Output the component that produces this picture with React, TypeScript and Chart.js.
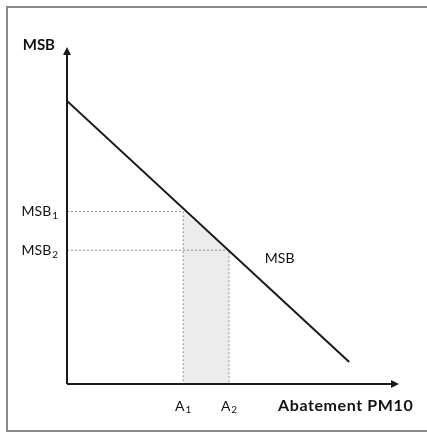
import React, { useEffect, useRef } from "react";
import { Chart, registerables } from "chart.js";

Chart.register(...registerables);

// Marginal social benefit curve (abatement, MSB)
const msbX = [0, 8.5];
const msbY = [8.4, 0.65];
// Abatement levels A1, A2 and matching MSB levels
const abatementLabels = ["1", "2"];
const abatementX = [3.5, 4.88];
const msbLevels = [5.12, 3.97];
// Axis ranges
const xRange = [0, 10];
const yRange = [0, 10];

const FONT = "Lato, 'Open Sans', sans-serif";
const TEXT = "#111111";

export default function App() {
  const ref = useRef<HTMLCanvasElement | null>(null);

  useEffect(() => {
    const canvas = ref.current;
    if (!canvas) return;

    const drawSub = (
      ctx: CanvasRenderingContext2D,
      main: string,
      sub: string,
      x: number,
      y: number,
      align: "left" | "right" | "center",
      size: number
    ) => {
      const subSize = Math.round(size * 0.72);
      ctx.font = `${size}px ${FONT}`;
      const wMain = ctx.measureText(main).width;
      ctx.font = `${subSize}px ${FONT}`;
      const wSub = ctx.measureText(sub).width;
      const total = wMain + wSub + 1;
      let left = x;
      if (align === "right") left = x - total;
      if (align === "center") left = x - total / 2;
      ctx.textAlign = "left";
      ctx.textBaseline = "middle";
      ctx.fillStyle = TEXT;
      ctx.font = `${size}px ${FONT}`;
      ctx.fillText(main, left, y);
      ctx.font = `${subSize}px ${FONT}`;
      ctx.fillText(sub, left + wMain + 1, y + size * 0.3);
    };

    const overlay = {
      id: "overlay",
      beforeDraw(chart: any) {
        const { ctx } = chart;
        ctx.save();
        ctx.fillStyle = "#ffffff";
        ctx.fillRect(0, 0, chart.width, chart.height);
        ctx.strokeStyle = "#8a8a8a";
        ctx.lineWidth = 2;
        ctx.strokeRect(7, 7, chart.width + 20, 424);
        ctx.restore();
      },
      afterDraw(chart: any) {
        const { ctx } = chart;
        const sx = chart.scales.x;
        const sy = chart.scales.y;
        const x0 = sx.getPixelForValue(xRange[0]);
        const x1 = sx.getPixelForValue(xRange[1]);
        const y0 = sy.getPixelForValue(yRange[0]);
        const y1 = sy.getPixelForValue(yRange[1]);
        ctx.save();
        ctx.strokeStyle = "#1a1a1a";
        ctx.fillStyle = "#1a1a1a";
        ctx.lineWidth = 2;
        ctx.beginPath();
        ctx.moveTo(x0, y0);
        ctx.lineTo(x0, y1 + 6);
        ctx.moveTo(x0, y0);
        ctx.lineTo(x1 - 6, y0);
        ctx.stroke();
        // arrowheads
        ctx.beginPath();
        ctx.moveTo(x0, y1);
        ctx.lineTo(x0 - 4, y1 + 8);
        ctx.lineTo(x0 + 4, y1 + 8);
        ctx.closePath();
        ctx.fill();
        ctx.beginPath();
        ctx.moveTo(x1, y0);
        ctx.lineTo(x1 - 8, y0 - 4);
        ctx.lineTo(x1 - 8, y0 + 4);
        ctx.closePath();
        ctx.fill();

        // axis titles
        ctx.fillStyle = TEXT;
        ctx.textBaseline = "middle";
        ctx.font = `bold 15px ${FONT}`;
        ctx.textAlign = "right";
        ctx.fillText("MSB", x0 - 12, y1 - 2);
        ctx.textAlign = "left";
        ctx.font = `bold 16px ${FONT}`;
        (ctx as any).letterSpacing = "0.6px";
        ctx.fillText("Abatement PM10", x0 + 211, y0 + 22);
        (ctx as any).letterSpacing = "0px";

        // level labels
        msbLevels.forEach((v, i) => {
          drawSub(ctx, "MSB", abatementLabels[i], x0 - 9, sy.getPixelForValue(v), "right", 14);
        });
        abatementX.forEach((v, i) => {
          drawSub(ctx, "A", abatementLabels[i], sx.getPixelForValue(v), y0 + 22, "center", 14);
        });

        // curve label
        ctx.font = `14px ${FONT}`;
        ctx.textAlign = "left";
        ctx.fillStyle = TEXT;
        ctx.fillText("MSB", sx.getPixelForValue(5.96), sy.getPixelForValue(3.72));
        ctx.restore();
      },
    };

    const dotted = (i: number) => ({
      type: "line" as const,
      data: [
        { x: xRange[0], y: msbLevels[i] },
        { x: abatementX[i], y: msbLevels[i] },
        { x: abatementX[i], y: yRange[0] },
      ],
      borderColor: "#8f8f8f",
      borderWidth: 1,
      borderDash: [2, 2],
      pointRadius: 0,
      fill: false,
      order: 2,
    });

    const chart = new Chart(canvas, {
      type: "scatter",
      data: {
        datasets: [
          {
            type: "line",
            data: abatementX.map((x, i) => ({ x, y: msbLevels[i] })),
            borderWidth: 0,
            borderColor: "rgba(0,0,0,0)",
            backgroundColor: "#ececec",
            fill: "origin",
            pointRadius: 0,
            order: 3,
          },
          dotted(0),
          dotted(1),
          {
            type: "line",
            data: msbX.map((x, i) => ({ x, y: msbY[i] })),
            borderColor: "#1a1a1a",
            borderWidth: 2,
            pointRadius: 0,
            fill: false,
            order: 1,
          },
        ],
      },
      options: {
        animation: false,
        responsive: false,
        devicePixelRatio: 1,
        layout: { padding: { left: 67, right: 28, top: 47, bottom: 52 } },
        plugins: { legend: { display: false }, tooltip: { enabled: false } },
        scales: {
          x: { type: "linear", min: xRange[0], max: xRange[1], display: false },
          y: { type: "linear", min: yRange[0], max: yRange[1], display: false },
        },
      },
      plugins: [overlay],
    });
    return () => chart.destroy();
  }, []);

  return (
    <div style={{ position: "absolute", left: 0, top: 0, width: 427, height: 436 }}>
      <canvas ref={ref} width={427} height={436} />
    </div>
  );
}
